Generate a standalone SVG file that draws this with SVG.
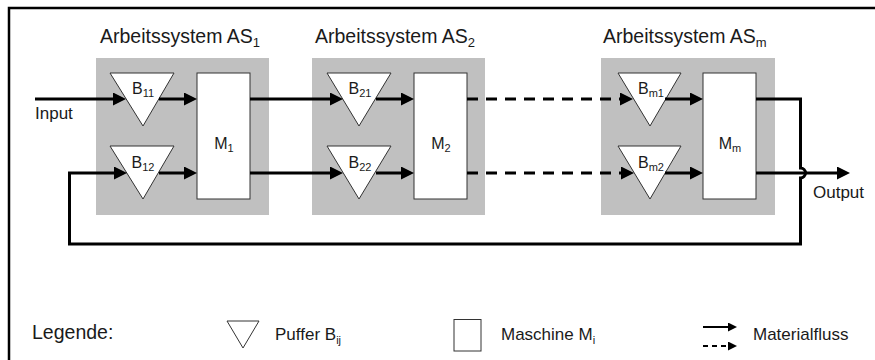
<svg xmlns="http://www.w3.org/2000/svg" width="875" height="360" viewBox="0 0 875 360">
  <style>
    .frame { fill: none; stroke: #000; stroke-width: 2.5; }
    .sys { fill: #c0c0c0; stroke: none; }
    .buf, .mach { fill: #fff; stroke: #333; stroke-width: 1; }
    .flow { fill: none; stroke: #000; stroke-width: 3; }
    .dash { stroke-dasharray: 11 8; }
    .lflow { fill: none; stroke: #000; stroke-width: 2; }
    text { font-family: "Liberation Sans", Arial, sans-serif; fill: #1a1a1a; }
    .title { font-size: 19.5px; }
    .lbl { font-size: 16px; }
    .io { font-size: 17px; }
    .sub { font-size: 11px; }
    .tsub { font-size: 13px; }
  </style>
  <defs>
    <marker id="arrow" viewBox="0 0 13 13" markerWidth="13" markerHeight="13" refX="0" refY="6.5" orient="auto" markerUnits="userSpaceOnUse">
      <path d="M0,0 L13,6.5 L0,13 z" fill="#000"/>
    </marker>
    <marker id="arrowSmall" viewBox="0 0 9 9" markerWidth="9" markerHeight="9" refX="0" refY="4.5" orient="auto" markerUnits="userSpaceOnUse">
      <path d="M0,0 L9,4.5 L0,9 z" fill="#000"/>
    </marker>
  </defs>

  <!-- outer frame -->
  <rect class="frame" x="9" y="8" width="880" height="360"/>

  <!-- work system 1 -->
  <g id="as1">
    <rect class="sys" x="96" y="58" width="173" height="157"/>
    <text class="title" x="100" y="43">Arbeitssystem AS<tspan class="tsub" dy="4">1</tspan></text>
  </g>
  <g id="b11">
    <polygon class="buf" points="110,73 174,73 143,126"/>
    <text class="lbl" x="143" y="94" text-anchor="middle">B<tspan class="sub" dy="3">11</tspan></text>
  </g>
  <g id="b12">
    <polygon class="buf" points="110,146 174,146 143,199"/>
    <text class="lbl" x="143" y="167.5" text-anchor="middle">B<tspan class="sub" dy="3">12</tspan></text>
  </g>
  <g id="m1">
    <rect class="mach" x="197" y="73" width="53" height="126"/>
    <text class="lbl" x="224" y="149" text-anchor="middle">M<tspan class="sub" dy="3">1</tspan></text>
  </g>

  <!-- work system 2 -->
  <g id="as2">
    <rect class="sys" x="312" y="58" width="173" height="157"/>
    <text class="title" x="315" y="43">Arbeitssystem AS<tspan class="tsub" dy="4">2</tspan></text>
  </g>
  <g id="b21">
    <polygon class="buf" points="327,73 391,73 359,126"/>
    <text class="lbl" x="360" y="94" text-anchor="middle">B<tspan class="sub" dy="3">21</tspan></text>
  </g>
  <g id="b22">
    <polygon class="buf" points="327,146 391,146 359,199"/>
    <text class="lbl" x="360" y="167.5" text-anchor="middle">B<tspan class="sub" dy="3">22</tspan></text>
  </g>
  <g id="m2">
    <rect class="mach" x="414" y="73" width="53" height="126"/>
    <text class="lbl" x="441" y="149" text-anchor="middle">M<tspan class="sub" dy="3">2</tspan></text>
  </g>

  <!-- work system m -->
  <g id="asm">
    <rect class="sys" x="601" y="58" width="174" height="157"/>
    <text class="title" x="603" y="43">Arbeitssystem AS<tspan class="tsub" dy="4">m</tspan></text>
  </g>
  <g id="bm1">
    <polygon class="buf" points="618,73 681,73 650,126"/>
    <text class="lbl" x="651" y="94" text-anchor="middle">B<tspan class="sub" dy="3">m1</tspan></text>
  </g>
  <g id="bm2">
    <polygon class="buf" points="618,146 681,146 650,199"/>
    <text class="lbl" x="651" y="167.5" text-anchor="middle">B<tspan class="sub" dy="3">m2</tspan></text>
  </g>
  <g id="mm">
    <rect class="mach" x="703" y="73" width="53" height="126"/>
    <text class="lbl" x="730" y="149" text-anchor="middle">M<tspan class="sub" dy="3">m</tspan></text>
  </g>

  <!-- material flow -->
  <g id="connectors">
    <!-- upper line -->
    <line class="flow" x1="35" y1="99" x2="113" y2="99" marker-end="url(#arrow)"/>
    <line class="flow" x1="159" y1="99" x2="184" y2="99" marker-end="url(#arrow)"/>
    <line class="flow" x1="250" y1="99" x2="330" y2="99" marker-end="url(#arrow)"/>
    <line class="flow" x1="376" y1="99" x2="401" y2="99" marker-end="url(#arrow)"/>
    <line class="flow dash" x1="467" y1="99" x2="620" y2="99" marker-end="url(#arrow)"/>
    <line class="flow" x1="665" y1="99" x2="690" y2="99" marker-end="url(#arrow)"/>
    <!-- lower line -->
    <line class="flow" x1="159" y1="173" x2="184" y2="173" marker-end="url(#arrow)"/>
    <line class="flow" x1="250" y1="173" x2="330" y2="173" marker-end="url(#arrow)"/>
    <line class="flow" x1="376" y1="173" x2="401" y2="173" marker-end="url(#arrow)"/>
    <line class="flow dash" x1="467" y1="173" x2="621" y2="173" marker-end="url(#arrow)"/>
    <line class="flow" x1="665" y1="173" x2="690" y2="173" marker-end="url(#arrow)"/>
    <!-- output -->
    <line class="flow" x1="756" y1="173" x2="837" y2="173" marker-end="url(#arrow)"/>
    <!-- feedback loop with line hop -->
    <path class="flow" d="M756,99 H800.5 V168 A5,5 0 0 1 800.5,178 V244 H69.5 V173 H114" marker-end="url(#arrow)"/>
  </g>

  <text class="io" x="35" y="119">Input</text>
  <text class="io" x="813" y="198">Output</text>

  <!-- legend -->
  <g id="legend">
    <text class="title" x="32" y="339">Legende:</text>
    <polygon class="buf" points="227,321 259,321 243,348" fill="none"/>
    <text class="io" x="275" y="340">Puffer B<tspan class="sub" dy="4">ij</tspan></text>
    <rect class="mach" x="454" y="319.5" width="27" height="31.5"/>
    <text class="io" x="501" y="340">Maschine M<tspan class="sub" dy="4">i</tspan></text>
    <line class="lflow" x1="703" y1="327" x2="728" y2="327" marker-end="url(#arrowSmall)"/>
    <line class="lflow" x1="703" y1="346" x2="728" y2="346" stroke-dasharray="5 4" marker-end="url(#arrowSmall)"/>
    <text class="io" x="753" y="340">Materialfluss</text>
  </g>
</svg>
